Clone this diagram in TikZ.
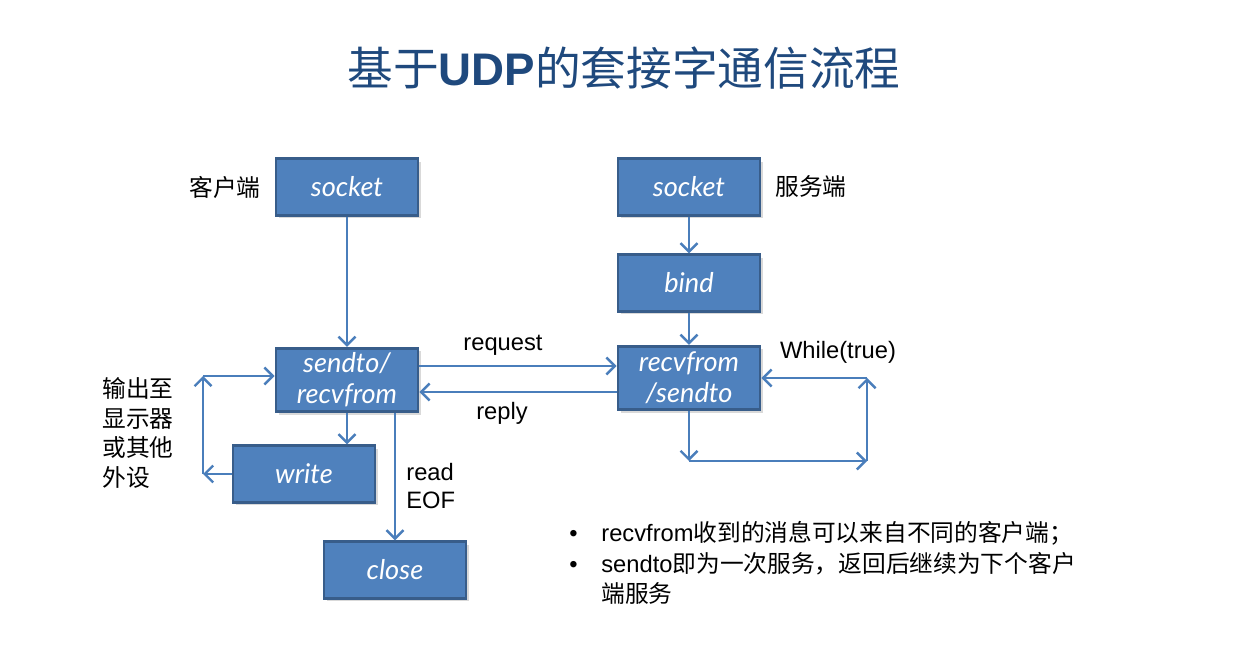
\documentclass[tikz,border=0pt]{standalone}
\usepackage{fontspec}
\setmainfont{Liberation Sans}
\newfontfamily\cjk{Noto Sans CJK SC}
\newfontfamily\boxfont{Lato}
\usetikzlibrary{arrows.meta,shadows}
\definecolor{boxblue}{RGB}{79,129,189}
\definecolor{boxedge}{RGB}{56,93,138}
\definecolor{flowblue}{RGB}{74,126,187}
\definecolor{titleblue}{RGB}{31,73,125}

\begin{document}
\begin{tikzpicture}[x=0.02cm, y=-0.02cm,
  stepbox/.style={draw=boxedge, fill=boxblue, line width=1.5pt, text=white,
    minimum width=2.84cm, minimum height=1.13cm, align=center, inner sep=1pt,
    font=\boxfont\itshape\fontsize{15.5}{17.5}\selectfont,
    drop shadow={opacity=0.3, shadow xshift=0.06cm, shadow yshift=-0.06cm}},
  oneline/.style={minimum height=1.13cm},
  twoline/.style={minimum height=1.27cm},
  flow/.style={draw=flowblue, line width=1.4pt,
    -{Straight Barb[length=0.17cm,width=0.34cm,line width=1.4pt]}},
  lbl/.style={font=\fontsize{13.5}{16}\selectfont, inner sep=0pt},
  cjklbl/.style={font=\cjk\fontsize{13.5}{17}\selectfont, inner sep=0pt}]
  \useasboundingbox (0,0) rectangle (1256,661);

  % title
  \node[text=titleblue, font=\fontsize{26}{30}\selectfont] (title) at (624,68)
    {{\cjk 基于}\textbf{UDP}{\cjk 的套接字通信流程}};

  % boxes
  \foreach \name/\x/\y/\txt/\kind in {
    csock/347/187/socket/oneline,
    ssock/689/187/socket/oneline,
    bind/689/283/bind/oneline,
    crecv/347/380/{sendto/\\recvfrom}/twoline,
    srecv/689/378/{recvfrom\\/sendto}/twoline,
    write/304/474/write/oneline,
    close/395/570/close/oneline%
  }{
    \node[stepbox, \kind] (\name) at (\x,\y) {\txt};
  }

  % side texts
  \node[cjklbl] (client) at (225,187) {客户端};
  \node[cjklbl] (server) at (811,187) {服务端};
  \node[cjklbl, anchor=west, align=left] (device) at (102,433)
    {输出至\\显示器\\或其他\\外设};
  \node[lbl] (request) at (503,345) {request};
  \node[lbl] (reply) at (502,413) {reply};
  \node[lbl] (loop) at (838,352) {While(true)};
  \node[lbl, anchor=west, align=left, font=\fontsize{13.5}{16}\selectfont]
    (eof) at (406,486) {read\\EOF};

  % connectors
  \draw[flow] (csock) -- (crecv);
  \draw[flow] (ssock) -- (bind);
  \draw[flow] (bind) -- (srecv);
  \draw[flow] (crecv.east |- 0,366) -- (srecv.west |- 0,366);
  \draw[flow] (srecv.west |- 0,392) -- (crecv.east |- 0,392);
  \draw[flow] (crecv.south) -- (crecv.south |- write.north);
  \draw[flow] (close.north |- crecv.south) -- (close.north);

  % write loop
  \coordinate (wl) at (203,474);
  \coordinate (wt) at (203,376);
  \draw[flow] (write.west) -- (wl);
  \draw[flow] (wl) -- (wt);
  \draw[flow] (wt) -- (crecv.west |- wt);

  % server loop
  \coordinate (lb) at (689,461);
  \coordinate (lr) at (867,461);
  \coordinate (lt) at (867,378);
  \draw[flow] (srecv.south) -- (lb);
  \draw[flow] (lb) -- (lr);
  \draw[flow] (lr) -- (lt);
  \draw[flow] (lt) -- (srecv.east);

  % notes
  \node[anchor=west, inner sep=0pt, font=\fontsize{13.5}{17.5}\selectfont]
    (notes) at (569,566) {\begin{tabular}{@{}l@{\hspace{13.5pt}}l@{}}
      \textbullet & recvfrom{\cjk 收到的消息可以来自不同的客户端；}\\
      \textbullet & sendto{\cjk 即为一次服务，返回后继续为下个客户}\\
       & {\cjk 端服务}
    \end{tabular}};
\end{tikzpicture}
\end{document}
